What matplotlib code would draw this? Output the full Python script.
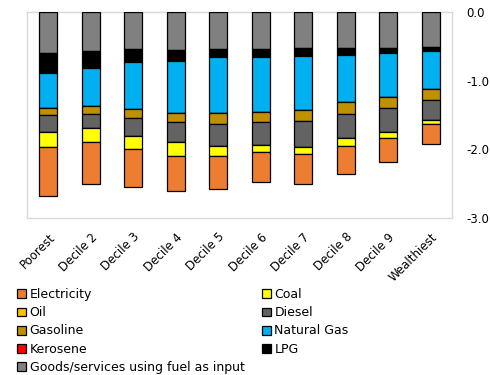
import matplotlib
matplotlib.use("Agg")
import matplotlib.pyplot as plt
from matplotlib.patches import Patch
import numpy as np

plt.rcParams['font.family'] = ['DejaVu Sans']

categories = ["Poorest", "Decile 2", "Decile 3", "Decile 4", "Decile 5",
              "Decile 6", "Decile 7", "Decile 8", "Decile 9", "Wealthiest"]

# Burden by fuel (negative = loss), stacked from zero downward
goods       = [-0.59, -0.57, -0.546, -0.556, -0.537, -0.541, -0.531, -0.522, -0.517, -0.503]
lpg         = [-0.295, -0.243, -0.184, -0.155, -0.125, -0.116, -0.112, -0.102, -0.078, -0.063]
natural_gas = [-0.515, -0.556, -0.687, -0.755, -0.813, -0.799, -0.788, -0.686, -0.639, -0.561]
kerosene    = [0.0, 0.0, 0.0, 0.0, 0.0, 0.0, 0.0, 0.0, 0.0, 0.0]
gasoline    = [-0.10, -0.116, -0.126, -0.134, -0.15, -0.149, -0.159, -0.17, -0.168, -0.15]
diesel      = [-0.245, -0.208, -0.261, -0.291, -0.324, -0.33, -0.373, -0.358, -0.344, -0.295]
oil         = [0.0, 0.0, 0.0, 0.0, 0.0, 0.0, 0.0, 0.0, 0.0, 0.0]
coal        = [-0.215, -0.207, -0.189, -0.199, -0.145, -0.105, -0.102, -0.111, -0.083, -0.053]
electricity = [-0.725, -0.60, -0.551, -0.51, -0.489, -0.43, -0.44, -0.411, -0.357, -0.30]

stack = [
    ("Goods/services using fuel as input", goods, "#808080"),
    ("LPG", lpg, "#000000"),
    ("Natural Gas", natural_gas, "#00B0F0"),
    ("Kerosene", kerosene, "#FF0000"),
    ("Gasoline", gasoline, "#BF9000"),
    ("Diesel", diesel, "#636363"),
    ("Oil", oil, "#FFC000"),
    ("Coal", coal, "#FFFF00"),
    ("Electricity", electricity, "#ED7D31"),
]

fig = plt.figure(figsize=(4.9, 3.75), dpi=100)
ax = fig.add_axes([27 / 490, 1 - 218 / 375, 425 / 490, 206 / 375])

x = np.arange(len(categories))
bottom = np.zeros(len(categories))
colors = {}
for name, vals, col in stack:
    vals = np.array(vals)
    ax.bar(x, vals, bottom=bottom, width=0.42, color=col,
           edgecolor="black", linewidth=0.9, zorder=3)
    bottom = bottom + vals
    colors[name] = col

ax.set_xlim(-0.5, len(categories) - 0.5)
ax.set_ylim(-3.0, 0.0)
ax.yaxis.tick_right()
ax.set_yticks([0.0, -1.0, -2.0, -3.0])
ax.set_yticklabels(["0.0", "-1.0", "-2.0", "-3.0"], fontsize=8.5)
ax.tick_params(axis="y", length=0, pad=10)
ax.set_xticks(x)
ax.set_xticklabels(categories, rotation=45, ha="right",
                   rotation_mode="anchor", fontsize=8.5)
ax.tick_params(axis="x", length=0, pad=9)
for s in ax.spines.values():
    s.set_color("#D9D9D9")
    s.set_linewidth(1.0)

legend_order = ["Electricity", "Oil", "Gasoline", "Kerosene",
                "Goods/services using fuel as input",
                "Coal", "Diesel", "Natural Gas", "LPG"]
handles = [Patch(facecolor=colors[n], edgecolor="black", linewidth=0.9, label=n)
           for n in legend_order]
fig.legend(handles=handles, ncol=2, loc="upper left",
           bbox_to_anchor=(17 / 490, 1 - 288 / 375), frameon=False,
           fontsize=9, handlelength=0.7, handleheight=0.7,
           handletextpad=0.3, labelspacing=0.42, columnspacing=1.4,
           borderaxespad=0, borderpad=0)

fig.savefig("out.png", dpi=100)
